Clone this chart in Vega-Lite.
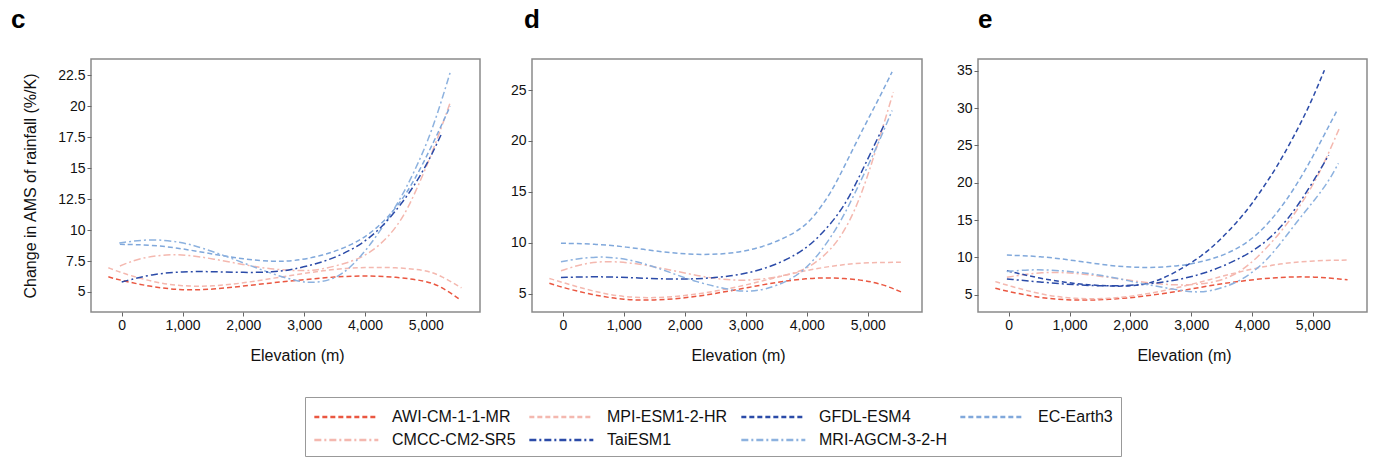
{
"$schema":"https://vega.github.io/schema/vega-lite/v6.json",
"padding":{"left":10,"top":6,"right":6,"bottom":2},
"background":"white",
"config":{
 "font":"Liberation Sans",
 "view":{"stroke":"#8a8a8a","strokeWidth":1.5},
 "axis":{"labelFontSize":14,"labelColor":"#111","titleFontSize":16,"titleFontWeight":"normal","titleColor":"#111","tickColor":"#666","tickSize":4,"domain":false,"grid":false,"labelPadding":2},
 "title":{"fontSize":26,"fontWeight":"bold","anchor":"start","frame":"group","baseline":"alphabetic","offset":26,"color":"#000"},
 "legend":{"orient":"none","direction":"horizontal","legendX":214,"legendY":338,"columns":4,"title":null,"symbolType":"M-1,0H5","symbolSize":455,"symbolStrokeWidth":2.5,"labelOffset":55,"labelFontSize":16,"labelColor":"#111","strokeColor":"#999","padding":8,"columnPadding":8,"rowPadding":3}
},
"data":{"values":[
{"p":"c","m":"AWI-CM-1-1-MR","x":-220,"y":6.22},{"p":"c","m":"AWI-CM-1-1-MR","x":0,"y":5.92},{"p":"c","m":"AWI-CM-1-1-MR","x":500,"y":5.4},{"p":"c","m":"AWI-CM-1-1-MR","x":1000,"y":5.13},{"p":"c","m":"AWI-CM-1-1-MR","x":1500,"y":5.2},{"p":"c","m":"AWI-CM-1-1-MR","x":2000,"y":5.48},{"p":"c","m":"AWI-CM-1-1-MR","x":2500,"y":5.75},{"p":"c","m":"AWI-CM-1-1-MR","x":3000,"y":6.0},{"p":"c","m":"AWI-CM-1-1-MR","x":3500,"y":6.22},{"p":"c","m":"AWI-CM-1-1-MR","x":4000,"y":6.32},{"p":"c","m":"AWI-CM-1-1-MR","x":4500,"y":6.22},{"p":"c","m":"AWI-CM-1-1-MR","x":5000,"y":5.9},{"p":"c","m":"AWI-CM-1-1-MR","x":5250,"y":5.45},{"p":"c","m":"AWI-CM-1-1-MR","x":5560,"y":4.38},
{"p":"c","m":"MPI-ESM1-2-HR","x":-220,"y":6.95},{"p":"c","m":"MPI-ESM1-2-HR","x":0,"y":6.54},{"p":"c","m":"MPI-ESM1-2-HR","x":500,"y":5.8},{"p":"c","m":"MPI-ESM1-2-HR","x":1000,"y":5.45},{"p":"c","m":"MPI-ESM1-2-HR","x":1500,"y":5.45},{"p":"c","m":"MPI-ESM1-2-HR","x":2000,"y":5.72},{"p":"c","m":"MPI-ESM1-2-HR","x":2500,"y":6.12},{"p":"c","m":"MPI-ESM1-2-HR","x":3000,"y":6.5},{"p":"c","m":"MPI-ESM1-2-HR","x":3500,"y":6.85},{"p":"c","m":"MPI-ESM1-2-HR","x":4000,"y":7.0},{"p":"c","m":"MPI-ESM1-2-HR","x":4500,"y":6.98},{"p":"c","m":"MPI-ESM1-2-HR","x":5000,"y":6.78},{"p":"c","m":"MPI-ESM1-2-HR","x":5250,"y":6.3},{"p":"c","m":"MPI-ESM1-2-HR","x":5585,"y":5.33},
{"p":"c","m":"CMCC-CM2-SR5","x":-30,"y":7.1},{"p":"c","m":"CMCC-CM2-SR5","x":300,"y":7.75},{"p":"c","m":"CMCC-CM2-SR5","x":750,"y":8.04},{"p":"c","m":"CMCC-CM2-SR5","x":1100,"y":7.98},{"p":"c","m":"CMCC-CM2-SR5","x":1500,"y":7.68},{"p":"c","m":"CMCC-CM2-SR5","x":2000,"y":7.2},{"p":"c","m":"CMCC-CM2-SR5","x":2500,"y":6.8},{"p":"c","m":"CMCC-CM2-SR5","x":3000,"y":6.68},{"p":"c","m":"CMCC-CM2-SR5","x":3300,"y":6.82},{"p":"c","m":"CMCC-CM2-SR5","x":3800,"y":7.45},{"p":"c","m":"CMCC-CM2-SR5","x":4100,"y":8.2},{"p":"c","m":"CMCC-CM2-SR5","x":4400,"y":9.5},{"p":"c","m":"CMCC-CM2-SR5","x":4650,"y":11.2},{"p":"c","m":"CMCC-CM2-SR5","x":4850,"y":13.3},{"p":"c","m":"CMCC-CM2-SR5","x":5120,"y":16.4},{"p":"c","m":"CMCC-CM2-SR5","x":5400,"y":20.3},
{"p":"c","m":"EC-Earth3","x":-30,"y":8.85},{"p":"c","m":"EC-Earth3","x":500,"y":8.8},{"p":"c","m":"EC-Earth3","x":1000,"y":8.5},{"p":"c","m":"EC-Earth3","x":1500,"y":8.05},{"p":"c","m":"EC-Earth3","x":2000,"y":7.65},{"p":"c","m":"EC-Earth3","x":2500,"y":7.45},{"p":"c","m":"EC-Earth3","x":2800,"y":7.48},{"p":"c","m":"EC-Earth3","x":3300,"y":7.9},{"p":"c","m":"EC-Earth3","x":3800,"y":8.8},{"p":"c","m":"EC-Earth3","x":4200,"y":10.1},{"p":"c","m":"EC-Earth3","x":4550,"y":12.0},{"p":"c","m":"EC-Earth3","x":4800,"y":13.9},{"p":"c","m":"EC-Earth3","x":5100,"y":16.8},{"p":"c","m":"EC-Earth3","x":5400,"y":20.0},
{"p":"c","m":"MRI-AGCM-3-2-H","x":-40,"y":8.95},{"p":"c","m":"MRI-AGCM-3-2-H","x":500,"y":9.32},{"p":"c","m":"MRI-AGCM-3-2-H","x":1000,"y":9.0},{"p":"c","m":"MRI-AGCM-3-2-H","x":1300,"y":8.6},{"p":"c","m":"MRI-AGCM-3-2-H","x":1850,"y":7.65},{"p":"c","m":"MRI-AGCM-3-2-H","x":2400,"y":6.57},{"p":"c","m":"MRI-AGCM-3-2-H","x":2900,"y":5.82},{"p":"c","m":"MRI-AGCM-3-2-H","x":3200,"y":5.72},{"p":"c","m":"MRI-AGCM-3-2-H","x":3500,"y":6.05},{"p":"c","m":"MRI-AGCM-3-2-H","x":3750,"y":6.9},{"p":"c","m":"MRI-AGCM-3-2-H","x":4100,"y":8.8},{"p":"c","m":"MRI-AGCM-3-2-H","x":4550,"y":12.2},{"p":"c","m":"MRI-AGCM-3-2-H","x":4800,"y":14.6},{"p":"c","m":"MRI-AGCM-3-2-H","x":5100,"y":17.9},{"p":"c","m":"MRI-AGCM-3-2-H","x":5410,"y":22.9},
{"p":"c","m":"TaiESM1","x":0,"y":5.81},{"p":"c","m":"TaiESM1","x":500,"y":6.45},{"p":"c","m":"TaiESM1","x":1000,"y":6.65},{"p":"c","m":"TaiESM1","x":1500,"y":6.65},{"p":"c","m":"TaiESM1","x":2000,"y":6.56},{"p":"c","m":"TaiESM1","x":2500,"y":6.6},{"p":"c","m":"TaiESM1","x":2800,"y":6.8},{"p":"c","m":"TaiESM1","x":3300,"y":7.36},{"p":"c","m":"TaiESM1","x":3800,"y":8.4},{"p":"c","m":"TaiESM1","x":4200,"y":9.8},{"p":"c","m":"TaiESM1","x":4550,"y":11.8},{"p":"c","m":"TaiESM1","x":4800,"y":13.5},{"p":"c","m":"TaiESM1","x":5050,"y":15.6},{"p":"c","m":"TaiESM1","x":5260,"y":17.8},
{"p":"d","m":"AWI-CM-1-1-MR","x":-220,"y":6.02},{"p":"d","m":"AWI-CM-1-1-MR","x":0,"y":5.59},{"p":"d","m":"AWI-CM-1-1-MR","x":500,"y":4.85},{"p":"d","m":"AWI-CM-1-1-MR","x":1000,"y":4.38},{"p":"d","m":"AWI-CM-1-1-MR","x":1500,"y":4.33},{"p":"d","m":"AWI-CM-1-1-MR","x":2000,"y":4.55},{"p":"d","m":"AWI-CM-1-1-MR","x":2500,"y":5.0},{"p":"d","m":"AWI-CM-1-1-MR","x":3000,"y":5.55},{"p":"d","m":"AWI-CM-1-1-MR","x":3500,"y":6.12},{"p":"d","m":"AWI-CM-1-1-MR","x":4000,"y":6.5},{"p":"d","m":"AWI-CM-1-1-MR","x":4400,"y":6.58},{"p":"d","m":"AWI-CM-1-1-MR","x":4900,"y":6.36},{"p":"d","m":"AWI-CM-1-1-MR","x":5250,"y":5.92},{"p":"d","m":"AWI-CM-1-1-MR","x":5570,"y":5.1},
{"p":"d","m":"MPI-ESM1-2-HR","x":-220,"y":6.49},{"p":"d","m":"MPI-ESM1-2-HR","x":0,"y":6.09},{"p":"d","m":"MPI-ESM1-2-HR","x":500,"y":5.2},{"p":"d","m":"MPI-ESM1-2-HR","x":1000,"y":4.65},{"p":"d","m":"MPI-ESM1-2-HR","x":1500,"y":4.55},{"p":"d","m":"MPI-ESM1-2-HR","x":2000,"y":4.78},{"p":"d","m":"MPI-ESM1-2-HR","x":2500,"y":5.22},{"p":"d","m":"MPI-ESM1-2-HR","x":3000,"y":5.82},{"p":"d","m":"MPI-ESM1-2-HR","x":3500,"y":6.6},{"p":"d","m":"MPI-ESM1-2-HR","x":4000,"y":7.3},{"p":"d","m":"MPI-ESM1-2-HR","x":4500,"y":7.8},{"p":"d","m":"MPI-ESM1-2-HR","x":5000,"y":8.07},{"p":"d","m":"MPI-ESM1-2-HR","x":5570,"y":8.07},
{"p":"d","m":"CMCC-CM2-SR5","x":-30,"y":7.24},{"p":"d","m":"CMCC-CM2-SR5","x":300,"y":7.9},{"p":"d","m":"CMCC-CM2-SR5","x":650,"y":8.2},{"p":"d","m":"CMCC-CM2-SR5","x":1100,"y":8.07},{"p":"d","m":"CMCC-CM2-SR5","x":1650,"y":7.48},{"p":"d","m":"CMCC-CM2-SR5","x":2200,"y":6.75},{"p":"d","m":"CMCC-CM2-SR5","x":2750,"y":6.25},{"p":"d","m":"CMCC-CM2-SR5","x":3300,"y":6.35},{"p":"d","m":"CMCC-CM2-SR5","x":3850,"y":7.05},{"p":"d","m":"CMCC-CM2-SR5","x":4100,"y":7.8},{"p":"d","m":"CMCC-CM2-SR5","x":4400,"y":9.3},{"p":"d","m":"CMCC-CM2-SR5","x":4650,"y":11.4},{"p":"d","m":"CMCC-CM2-SR5","x":4900,"y":14.7},{"p":"d","m":"CMCC-CM2-SR5","x":5150,"y":19.4},{"p":"d","m":"CMCC-CM2-SR5","x":5420,"y":24.8},
{"p":"d","m":"EC-Earth3","x":-30,"y":9.95},{"p":"d","m":"EC-Earth3","x":550,"y":9.88},{"p":"d","m":"EC-Earth3","x":1100,"y":9.55},{"p":"d","m":"EC-Earth3","x":1650,"y":9.06},{"p":"d","m":"EC-Earth3","x":2200,"y":8.8},{"p":"d","m":"EC-Earth3","x":2750,"y":8.9},{"p":"d","m":"EC-Earth3","x":3300,"y":9.55},{"p":"d","m":"EC-Earth3","x":3850,"y":11.04},{"p":"d","m":"EC-Earth3","x":4100,"y":12.4},{"p":"d","m":"EC-Earth3","x":4400,"y":14.9},{"p":"d","m":"EC-Earth3","x":4650,"y":17.9},{"p":"d","m":"EC-Earth3","x":4930,"y":21.3},{"p":"d","m":"EC-Earth3","x":5170,"y":24.0},{"p":"d","m":"EC-Earth3","x":5400,"y":26.8},
{"p":"d","m":"TaiESM1","x":-30,"y":6.58},{"p":"d","m":"TaiESM1","x":550,"y":6.68},{"p":"d","m":"TaiESM1","x":1100,"y":6.58},{"p":"d","m":"TaiESM1","x":1650,"y":6.42},{"p":"d","m":"TaiESM1","x":2200,"y":6.42},{"p":"d","m":"TaiESM1","x":2750,"y":6.68},{"p":"d","m":"TaiESM1","x":3300,"y":7.34},{"p":"d","m":"TaiESM1","x":3850,"y":8.8},{"p":"d","m":"TaiESM1","x":4200,"y":10.5},{"p":"d","m":"TaiESM1","x":4550,"y":13.0},{"p":"d","m":"TaiESM1","x":4750,"y":15.1},{"p":"d","m":"TaiESM1","x":4950,"y":17.6},{"p":"d","m":"TaiESM1","x":5270,"y":21.6},
{"p":"d","m":"MRI-AGCM-3-2-H","x":-30,"y":8.14},{"p":"d","m":"MRI-AGCM-3-2-H","x":550,"y":8.73},{"p":"d","m":"MRI-AGCM-3-2-H","x":1100,"y":8.4},{"p":"d","m":"MRI-AGCM-3-2-H","x":1650,"y":7.34},{"p":"d","m":"MRI-AGCM-3-2-H","x":2200,"y":6.09},{"p":"d","m":"MRI-AGCM-3-2-H","x":2750,"y":5.36},{"p":"d","m":"MRI-AGCM-3-2-H","x":3020,"y":5.17},{"p":"d","m":"MRI-AGCM-3-2-H","x":3300,"y":5.36},{"p":"d","m":"MRI-AGCM-3-2-H","x":3730,"y":6.25},{"p":"d","m":"MRI-AGCM-3-2-H","x":4100,"y":8.0},{"p":"d","m":"MRI-AGCM-3-2-H","x":4500,"y":11.4},{"p":"d","m":"MRI-AGCM-3-2-H","x":4770,"y":14.6},{"p":"d","m":"MRI-AGCM-3-2-H","x":5150,"y":19.4},{"p":"d","m":"MRI-AGCM-3-2-H","x":5400,"y":23.0},
{"p":"e","m":"AWI-CM-1-1-MR","x":-220,"y":5.85},{"p":"e","m":"AWI-CM-1-1-MR","x":0,"y":5.4},{"p":"e","m":"AWI-CM-1-1-MR","x":550,"y":4.5},{"p":"e","m":"AWI-CM-1-1-MR","x":1100,"y":4.2},{"p":"e","m":"AWI-CM-1-1-MR","x":1650,"y":4.33},{"p":"e","m":"AWI-CM-1-1-MR","x":2200,"y":4.73},{"p":"e","m":"AWI-CM-1-1-MR","x":2750,"y":5.4},{"p":"e","m":"AWI-CM-1-1-MR","x":3300,"y":6.2},{"p":"e","m":"AWI-CM-1-1-MR","x":3850,"y":6.88},{"p":"e","m":"AWI-CM-1-1-MR","x":4400,"y":7.32},{"p":"e","m":"AWI-CM-1-1-MR","x":4950,"y":7.46},{"p":"e","m":"AWI-CM-1-1-MR","x":5570,"y":7.0},
{"p":"e","m":"MPI-ESM1-2-HR","x":-220,"y":6.74},{"p":"e","m":"MPI-ESM1-2-HR","x":0,"y":6.2},{"p":"e","m":"MPI-ESM1-2-HR","x":550,"y":4.96},{"p":"e","m":"MPI-ESM1-2-HR","x":1100,"y":4.42},{"p":"e","m":"MPI-ESM1-2-HR","x":1650,"y":4.42},{"p":"e","m":"MPI-ESM1-2-HR","x":2200,"y":4.96},{"p":"e","m":"MPI-ESM1-2-HR","x":2750,"y":5.85},{"p":"e","m":"MPI-ESM1-2-HR","x":3300,"y":7.0},{"p":"e","m":"MPI-ESM1-2-HR","x":3850,"y":8.2},{"p":"e","m":"MPI-ESM1-2-HR","x":4400,"y":9.1},{"p":"e","m":"MPI-ESM1-2-HR","x":4950,"y":9.55},{"p":"e","m":"MPI-ESM1-2-HR","x":5570,"y":9.64},
{"p":"e","m":"CMCC-CM2-SR5","x":-30,"y":7.32},{"p":"e","m":"CMCC-CM2-SR5","x":550,"y":8.08},{"p":"e","m":"CMCC-CM2-SR5","x":1100,"y":7.9},{"p":"e","m":"CMCC-CM2-SR5","x":1650,"y":7.32},{"p":"e","m":"CMCC-CM2-SR5","x":2200,"y":6.65},{"p":"e","m":"CMCC-CM2-SR5","x":2750,"y":6.2},{"p":"e","m":"CMCC-CM2-SR5","x":3300,"y":6.43},{"p":"e","m":"CMCC-CM2-SR5","x":3730,"y":7.54},{"p":"e","m":"CMCC-CM2-SR5","x":4100,"y":10.0},{"p":"e","m":"CMCC-CM2-SR5","x":4500,"y":13.6},{"p":"e","m":"CMCC-CM2-SR5","x":4800,"y":17.0},{"p":"e","m":"CMCC-CM2-SR5","x":5100,"y":21.0},{"p":"e","m":"CMCC-CM2-SR5","x":5430,"y":27.2},
{"p":"e","m":"EC-Earth3","x":-30,"y":10.3},{"p":"e","m":"EC-Earth3","x":550,"y":10.13},{"p":"e","m":"EC-Earth3","x":1100,"y":9.55},{"p":"e","m":"EC-Earth3","x":1650,"y":8.88},{"p":"e","m":"EC-Earth3","x":2200,"y":8.57},{"p":"e","m":"EC-Earth3","x":2750,"y":8.75},{"p":"e","m":"EC-Earth3","x":3300,"y":9.55},{"p":"e","m":"EC-Earth3","x":3850,"y":11.34},{"p":"e","m":"EC-Earth3","x":4280,"y":14.5},{"p":"e","m":"EC-Earth3","x":4650,"y":18.6},{"p":"e","m":"EC-Earth3","x":4940,"y":22.6},{"p":"e","m":"EC-Earth3","x":5160,"y":26.0},{"p":"e","m":"EC-Earth3","x":5410,"y":29.9},
{"p":"e","m":"GFDL-ESM4","x":-30,"y":8.2},{"p":"e","m":"GFDL-ESM4","x":550,"y":7.1},{"p":"e","m":"GFDL-ESM4","x":1100,"y":6.43},{"p":"e","m":"GFDL-ESM4","x":1650,"y":6.12},{"p":"e","m":"GFDL-ESM4","x":2050,"y":6.12},{"p":"e","m":"GFDL-ESM4","x":2470,"y":6.74},{"p":"e","m":"GFDL-ESM4","x":3020,"y":9.3},{"p":"e","m":"GFDL-ESM4","x":3300,"y":11.0},{"p":"e","m":"GFDL-ESM4","x":3620,"y":13.5},{"p":"e","m":"GFDL-ESM4","x":3950,"y":16.6},{"p":"e","m":"GFDL-ESM4","x":4170,"y":19.2},{"p":"e","m":"GFDL-ESM4","x":4400,"y":22.0},{"p":"e","m":"GFDL-ESM4","x":4660,"y":25.8},{"p":"e","m":"GFDL-ESM4","x":4940,"y":30.2},{"p":"e","m":"GFDL-ESM4","x":5190,"y":35.1},
{"p":"e","m":"TaiESM1","x":-30,"y":7.1},{"p":"e","m":"TaiESM1","x":550,"y":6.65},{"p":"e","m":"TaiESM1","x":1100,"y":6.3},{"p":"e","m":"TaiESM1","x":1650,"y":6.12},{"p":"e","m":"TaiESM1","x":2200,"y":6.3},{"p":"e","m":"TaiESM1","x":2750,"y":6.88},{"p":"e","m":"TaiESM1","x":3300,"y":8.0},{"p":"e","m":"TaiESM1","x":3850,"y":10.0},{"p":"e","m":"TaiESM1","x":4230,"y":12.0},{"p":"e","m":"TaiESM1","x":4600,"y":15.1},{"p":"e","m":"TaiESM1","x":4960,"y":19.5},{"p":"e","m":"TaiESM1","x":5260,"y":23.7},
{"p":"e","m":"MRI-AGCM-3-2-H","x":-30,"y":8.1},{"p":"e","m":"MRI-AGCM-3-2-H","x":450,"y":8.44},{"p":"e","m":"MRI-AGCM-3-2-H","x":1100,"y":8.08},{"p":"e","m":"MRI-AGCM-3-2-H","x":1650,"y":7.46},{"p":"e","m":"MRI-AGCM-3-2-H","x":2200,"y":6.43},{"p":"e","m":"MRI-AGCM-3-2-H","x":2750,"y":5.67},{"p":"e","m":"MRI-AGCM-3-2-H","x":3020,"y":5.31},{"p":"e","m":"MRI-AGCM-3-2-H","x":3300,"y":5.4},{"p":"e","m":"MRI-AGCM-3-2-H","x":3730,"y":6.43},{"p":"e","m":"MRI-AGCM-3-2-H","x":4120,"y":8.6},{"p":"e","m":"MRI-AGCM-3-2-H","x":4400,"y":11.1},{"p":"e","m":"MRI-AGCM-3-2-H","x":4720,"y":14.6},{"p":"e","m":"MRI-AGCM-3-2-H","x":5050,"y":17.9},{"p":"e","m":"MRI-AGCM-3-2-H","x":5260,"y":20.2},{"p":"e","m":"MRI-AGCM-3-2-H","x":5420,"y":22.6}
]},
"spacing":28,
"hconcat":[
 {"title":{"text":"c","dx":-80},"width":389,"height":253,
  "transform":[{"filter":"datum.p=='c'"}],
  "mark":{"type":"line","interpolate":"basis","strokeWidth":1.5},
  "encoding":{
   "x":{"field":"x","type":"quantitative","scale":{"domain":[-505,5890],"nice":false,"zero":false},"axis":{"values":[0,1000,2000,3000,4000,5000],"format":",d","title":"Elevation (m)","titlePadding":15,"titleX":206}},
   "y":{"field":"y","type":"quantitative","scale":{"domain":[3.38,23.82],"nice":false,"zero":false},"axis":{"values":[5,7.5,10,12.5,15,17.5,20,22.5],"format":".3~g","title":"Change in AMS of rainfall (%/K)","titlePadding":19}},
   "color":{"field":"m","type":"nominal","scale":{"domain":["AWI-CM-1-1-MR","MPI-ESM1-2-HR","GFDL-ESM4","EC-Earth3","CMCC-CM2-SR5","TaiESM1","MRI-AGCM-3-2-H"],"range":["#EA5741","#F4B8AF","#2B4BA8","#80A8DB","#F4B8AF","#2B4BA8","#8DB2DF"]}},
   "strokeDash":{"field":"m","type":"nominal","scale":{"domain":["AWI-CM-1-1-MR","MPI-ESM1-2-HR","GFDL-ESM4","EC-Earth3","CMCC-CM2-SR5","TaiESM1","MRI-AGCM-3-2-H"],"range":[[5,3],[5,3],[5,3],[5,3],[7,3,2,3],[7,3,2,3],[7,3,2,3]]}}
  }},
 {"spacing":32,"hconcat":[
  {"title":{"text":"d","dx":-8},"width":390,"height":253,
   "transform":[{"filter":"datum.p=='d'"}],
   "mark":{"type":"line","interpolate":"basis","strokeWidth":1.5},
   "encoding":{
    "x":{"field":"x","type":"quantitative","scale":{"domain":[-505,5890],"nice":false,"zero":false},"axis":{"values":[0,1000,2000,3000,4000,5000],"format":",d","title":"Elevation (m)","titlePadding":15,"titleX":206}},
    "y":{"field":"y","type":"quantitative","scale":{"domain":[3.19,28.06],"nice":false,"zero":false},"axis":{"values":[5,10,15,20,25],"format":".3~g","title":null}},
    "color":{"field":"m","type":"nominal","scale":{"domain":["AWI-CM-1-1-MR","MPI-ESM1-2-HR","GFDL-ESM4","EC-Earth3","CMCC-CM2-SR5","TaiESM1","MRI-AGCM-3-2-H"],"range":["#EA5741","#F4B8AF","#2B4BA8","#80A8DB","#F4B8AF","#2B4BA8","#8DB2DF"]}},
    "strokeDash":{"field":"m","type":"nominal","scale":{"domain":["AWI-CM-1-1-MR","MPI-ESM1-2-HR","GFDL-ESM4","EC-Earth3","CMCC-CM2-SR5","TaiESM1","MRI-AGCM-3-2-H"],"range":[[5,3],[5,3],[5,3],[5,3],[7,3,2,3],[7,3,2,3],[7,3,2,3]]}}
   }},
  {"title":{"text":"e","dx":0},"width":389,"height":253,
   "transform":[{"filter":"datum.p=='e'"}],
   "mark":{"type":"line","interpolate":"basis","strokeWidth":1.5},
   "encoding":{
    "x":{"field":"x","type":"quantitative","scale":{"domain":[-505,5890],"nice":false,"zero":false},"axis":{"values":[0,1000,2000,3000,4000,5000],"format":",d","title":"Elevation (m)","titlePadding":15,"titleX":206}},
    "y":{"field":"y","type":"quantitative","scale":{"domain":[2.67,36.6],"nice":false,"zero":false},"axis":{"values":[5,10,15,20,25,30,35],"format":".3~g","title":null}},
    "color":{"field":"m","type":"nominal","scale":{"domain":["AWI-CM-1-1-MR","MPI-ESM1-2-HR","GFDL-ESM4","EC-Earth3","CMCC-CM2-SR5","TaiESM1","MRI-AGCM-3-2-H"],"range":["#EA5741","#F4B8AF","#2B4BA8","#80A8DB","#F4B8AF","#2B4BA8","#8DB2DF"]}},
    "strokeDash":{"field":"m","type":"nominal","scale":{"domain":["AWI-CM-1-1-MR","MPI-ESM1-2-HR","GFDL-ESM4","EC-Earth3","CMCC-CM2-SR5","TaiESM1","MRI-AGCM-3-2-H"],"range":[[5,3],[5,3],[5,3],[5,3],[7,3,2,3],[7,3,2,3],[7,3,2,3]]}}
   }}
 ]}
]
}
